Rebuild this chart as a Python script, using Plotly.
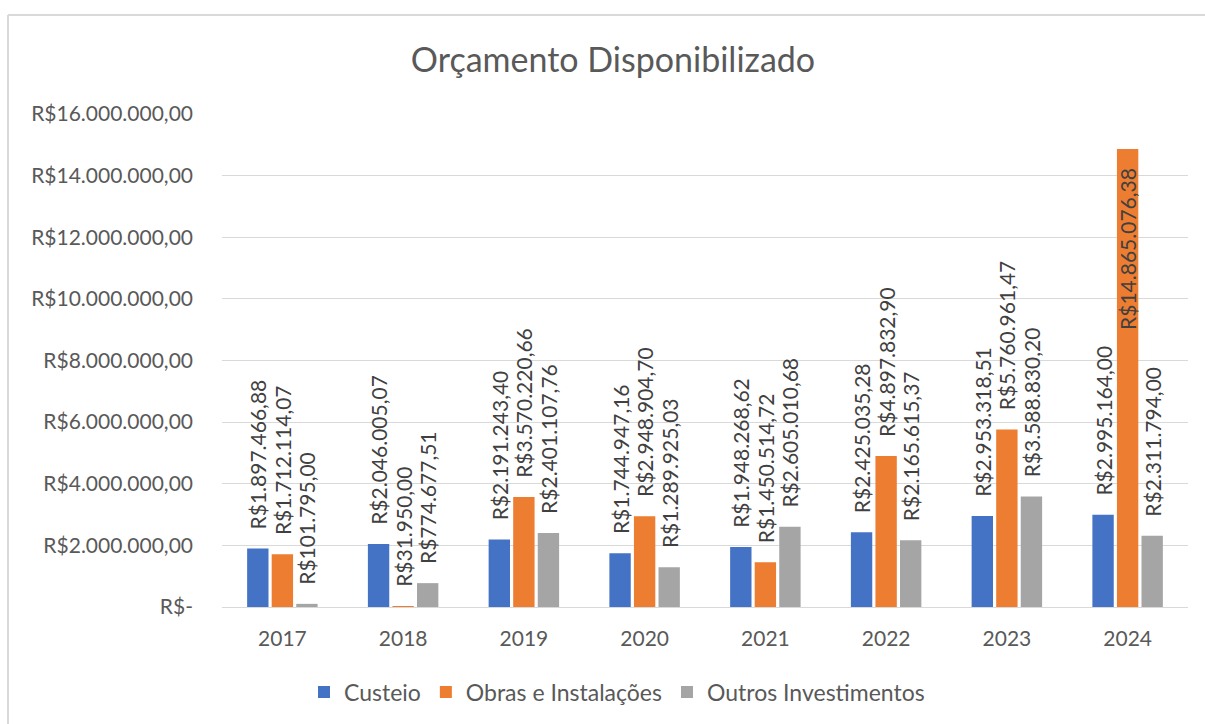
import plotly.graph_objects as go

years = ["2017", "2018", "2019", "2020", "2021", "2022", "2023", "2024"]
custeio = [1897466.88, 2046005.07, 2191243.40, 1744947.16, 1948268.62, 2425035.28, 2953318.51, 2995164.00]
obras = [1712114.07, 31950.00, 3570220.66, 2948904.70, 1450514.72, 4897832.90, 5760961.47, 14865076.38]
outros = [101795.00, 774677.51, 2401107.76, 1289925.03, 2605010.68, 2165615.37, 3588830.20, 2311794.00]
series_names = ["Custeio", "Obras e Instalações", "Outros Investimentos"]
colors = ["#4472C4", "#ED7D31", "#A5A5A5"]
tick_vals = [0, 2000000, 4000000, 6000000, 8000000, 10000000, 12000000, 14000000, 16000000]
tick_text = ["R$-", "R$2.000.000,00", "R$4.000.000,00", "R$6.000.000,00", "R$8.000.000,00",
             "R$10.000.000,00", "R$12.000.000,00", "R$14.000.000,00", "R$16.000.000,00"]

FONT = "Lato, 'Open Sans', sans-serif"
Y_MAX = 16000000
LBL = 21


def brl(v):
    s = f"{v:,.2f}"
    s = s.replace(",", "X").replace(".", ",").replace("X", ".")
    return "R$" + s


NB = "\u00a0"

fig = go.Figure()
for name, vals, col in zip(series_names, [custeio, obras, outros], colors):
    texts, positions = [], []
    for v in vals:
        if v > 0.85 * Y_MAX:
            texts.append(brl(v) + NB * 3)
            positions.append("inside")
        else:
            texts.append(NB * 3 + brl(v))
            positions.append("outside")
    fig.add_trace(go.Bar(
        name=name, x=years, y=vals, marker=dict(color=col, line=dict(width=0)),
        text=texts, textposition=positions, textangle=-90,
        insidetextanchor="end", constraintext="none", cliponaxis=False,
        textfont=dict(family=FONT, size=LBL, color="#404040"),
        outsidetextfont=dict(family=FONT, size=LBL, color="#404040"),
        insidetextfont=dict(family=FONT, size=LBL, color="#404040"),
        hoverinfo="x+y",
    ))

plot_l, plot_r, plot_t, plot_b = 222, 1188, 114, 607
pw, ph = plot_r - plot_l, plot_b - plot_t


def px_x(x):
    return (x - plot_l) / pw


def px_y(y):
    return (plot_b - y) / ph


border = dict(color="#d9d9d9", width=2)
fig.add_shape(type="line", xref="paper", yref="paper", x0=px_x(8), x1=px_x(8), y0=px_y(15), y1=px_y(740), line=border)
fig.add_shape(type="line", xref="paper", yref="paper", x0=px_x(8), x1=px_x(1220), y0=px_y(15), y1=px_y(15), line=border)

fig.update_layout(
    width=1205, height=724,
    margin=dict(l=plot_l, r=1205 - plot_r, t=plot_t, b=724 - plot_b, autoexpand=False),
    paper_bgcolor="white", plot_bgcolor="white",
    font=dict(family=FONT, color="#595959", size=21),
    title=dict(text="Orçamento Disponibilizado", x=613 / 1205, xanchor="center", xref="container",
               y=1 - 60 / 724, yanchor="middle", yref="container",
               font=dict(family=FONT, size=34, color="#595959")),
    barmode="group", bargap=0.39, bargroupgap=0.13,
    showlegend=True,
    legend=dict(orientation="h", x=px_x(617), xanchor="center", y=px_y(692), yanchor="middle",
                font=dict(family=FONT, size=23, color="#595959"), itemwidth=30,
                traceorder="normal"),
    uniformtext=dict(minsize=LBL, mode="show"),
)
fig.update_yaxes(range=[0, Y_MAX], tickvals=tick_vals, ticktext=tick_text, showgrid=True,
                 gridcolor="#d9d9d9", gridwidth=1, zeroline=False, showline=False,
                 ticklabelstandoff=28, tickfont=dict(family=FONT, size=21, color="#595959"))
fig.update_xaxes(showline=True, linecolor="#d9d9d9", linewidth=1, showgrid=False,
                 ticks="", ticklabelstandoff=13, tickfont=dict(family=FONT, size=21, color="#595959"))

fig.write_html("out.html", config={"displayModeBar": False},
               post_script="document.body.style.margin='0';document.body.style.overflow='hidden';")
